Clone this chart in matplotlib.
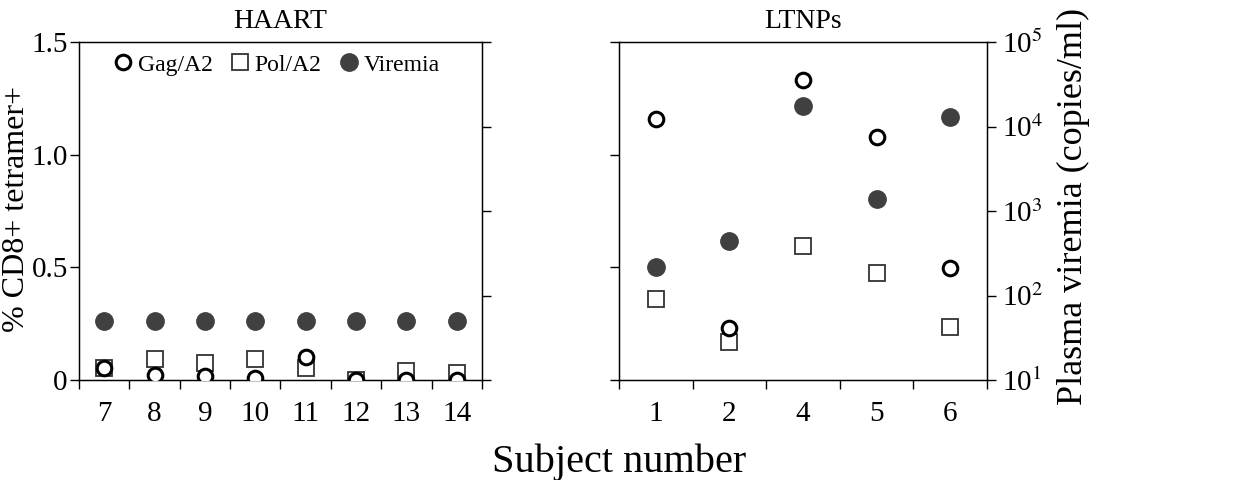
import numpy as np
import matplotlib
matplotlib.use("Agg")
import matplotlib.pyplot as plt
from matplotlib.lines import Line2D

plt.rcParams['font.family'] = ['Liberation Serif', 'DejaVu Serif']
plt.rcParams['mathtext.fontset'] = 'stix'

# HAART subjects
haart_subj = ["7", "8", "9", "10", "11", "12", "13", "14"]
haart_gag = [0.052, 0.022, 0.019, 0.010, 0.10, 0.0, 0.0, 0.0]
haart_pol = [0.055, 0.093, 0.077, 0.093, 0.055, 0.0, 0.04, 0.03]
haart_vir = [50, 50, 50, 50, 50, 50, 50, 50]

# LTNP subjects
ltnp_subj = ["1", "2", "4", "5", "6"]
ltnp_gag = [1.158, 0.229, 1.331, 1.077, 0.498]
ltnp_pol = [0.36, 0.167, 0.596, 0.476, 0.237]
ltnp_vir = [220, 440, 17500, 1380, 12800]

vir_ticks = [10, 100, 1000, 10000, 100000]
vir_labels = [r"10$^{1}$", r"10$^{2}$", r"10$^{3}$", r"10$^{4}$", r"10$^{5}$"]
pct_ticks = [0, 0.5, 1.0, 1.5]
pct_labels = ["0", "0.5", "1.0", "1.5"]

FS = 21
FILL = "#404040"
TL = 6.5


def style_x(ax, labels):
    n = len(labels)
    ax.set_xlim(-0.5, n - 0.5)
    ax.set_xticks(np.arange(n + 1) - 0.5)
    ax.set_xticklabels([])
    ax.set_xticks(np.arange(n), minor=True)
    ax.set_xticklabels(labels, minor=True, fontsize=FS)
    ax.tick_params(axis='x', which='major', direction='out', length=TL, width=1)
    ax.tick_params(axis='x', which='minor', length=0, pad=15)


def panel(rect, labels, gag, pol, vir, title, left_labels, right_labels):
    ax = fig.add_axes(rect)
    x = np.arange(len(labels))
    axr = ax.twinx()
    axr.set_yscale('log')
    axr.set_ylim(10, 1e5)
    axr.set_yticks(vir_ticks)
    axr.yaxis.set_minor_locator(matplotlib.ticker.NullLocator())
    if right_labels:
        axr.set_yticklabels(vir_labels, fontsize=FS)
    else:
        axr.set_yticklabels([])
    axr.tick_params(axis='y', direction='out', length=TL, width=1, pad=4)

    ax.set_zorder(axr.get_zorder() + 1)
    ax.patch.set_visible(False)
    ax.set_ylim(0, 1.5)
    ax.set_yticks(pct_ticks)
    if left_labels:
        ax.set_yticklabels(pct_labels, fontsize=FS)
    else:
        ax.set_yticklabels([])
    ax.tick_params(axis='y', direction='out', length=TL, width=1, pad=1.5)
    style_x(ax, labels)

    # viremia on log axis, converted to the pct axis for stacking order
    vir_pos = [np.log10(v / 10) / 4 * 1.5 for v in vir]
    ax.plot(x, vir_pos, 'o', ms=12.5, mfc=FILL, mec=FILL, zorder=2)
    ax.plot(x, pol, 's', ms=11, mfc='white', mec='#333333', mew=1.3, zorder=3)
    ax.plot(x, gag, 'o', ms=10.5, mfc='white', mec='black', mew=2.2, zorder=4)
    ax.set_title(title, fontsize=20, pad=10)
    for s in ax.spines.values():
        s.set_linewidth(1)
    return ax, axr


fig = plt.figure(figsize=(12.38, 4.80), dpi=100)

ax1, ax1r = panel([0.0638, 0.2083, 0.3255, 0.7042], haart_subj, haart_gag,
                  haart_pol, haart_vir, "HAART", True, False)
ax2, ax2r = panel([0.5, 0.2083, 0.2973, 0.7042], ltnp_subj, ltnp_gag,
                  ltnp_pol, ltnp_vir, "LTNPs", False, True)

ax1.set_ylabel("% CD8+ tetramer+", fontsize=23)
ax1.yaxis.set_label_coords(-0.118, 0.505)
ax2r.set_ylabel("Plasma viremia (copies/ml)", fontsize=26)
ax2r.yaxis.set_label_coords(1.19, 0.515)

handles = [
    Line2D([], [], ls='none', marker='o', ms=10.5, mfc='white', mec='black', mew=2.2),
    Line2D([], [], ls='none', marker='s', ms=11, mfc='white', mec='#333333', mew=1.3),
    Line2D([], [], ls='none', marker='o', ms=12.5, mfc=FILL, mec=FILL),
]
ax1.legend(handles, ["Gag/A2", "Pol/A2", "Viremia"], loc='center',
           ncol=3, frameon=False, fontsize=17, handletextpad=0.1,
           columnspacing=0.68, handlelength=1.0, borderpad=0,
           bbox_to_anchor=(0.488, 0.932))

fig.text(0.5, 0.037, "Subject number", ha='center', va='center', fontsize=29)

fig.savefig("out.png", dpi=100)
